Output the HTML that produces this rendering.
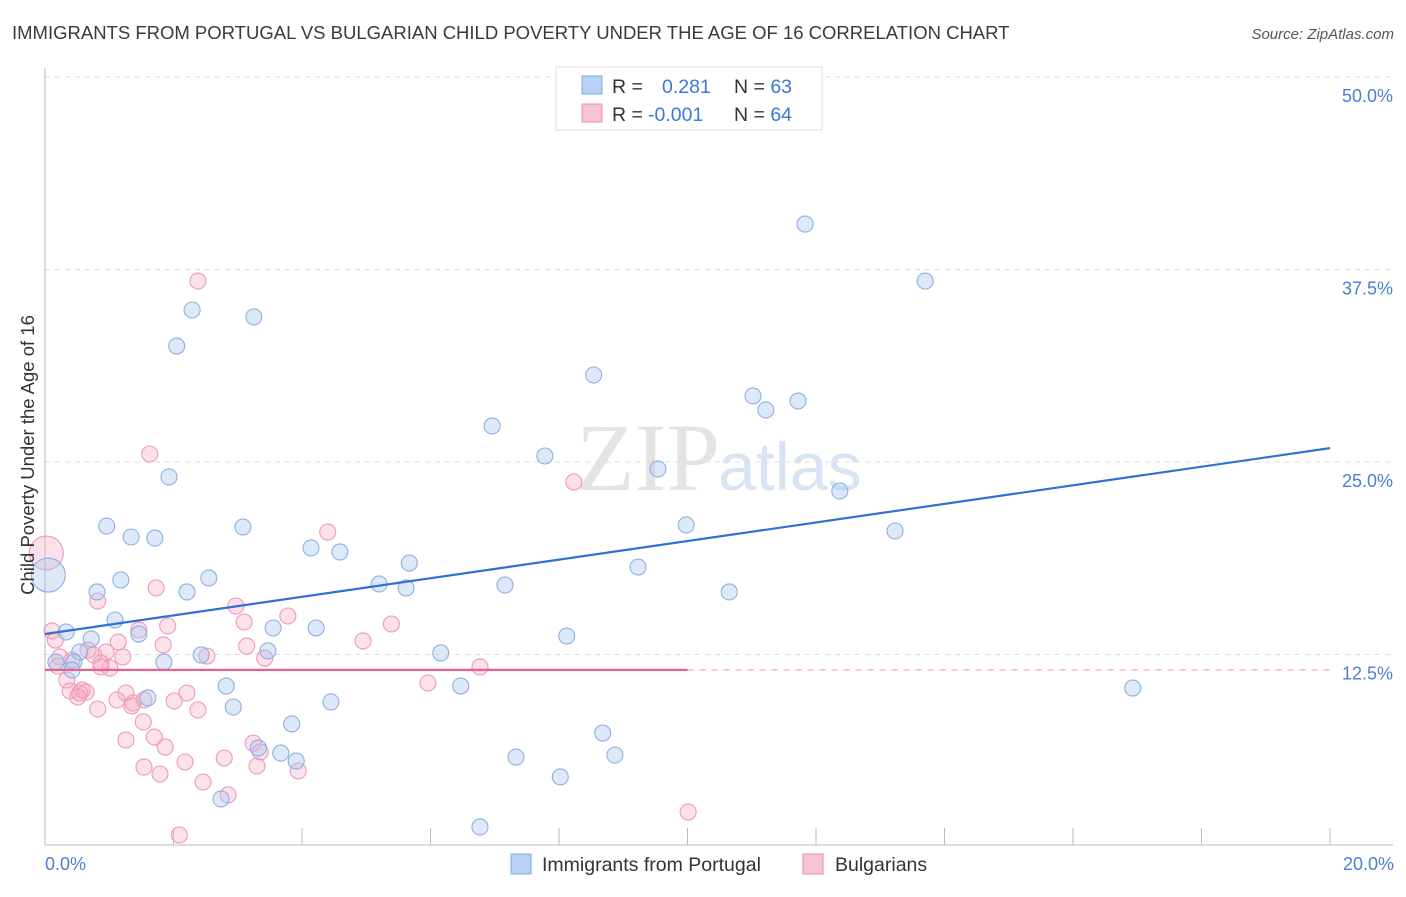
<!DOCTYPE html>
<html><head><meta charset="utf-8"><style>
body{margin:0;background:#fff;font-family:"Liberation Sans",sans-serif;}
</style></head><body>
<svg id="chart" width="1406" height="892" xmlns="http://www.w3.org/2000/svg" font-family="Liberation Sans, sans-serif">
<text x="12" y="39" font-size="18.5" fill="#3a3a3a">IMMIGRANTS FROM PORTUGAL VS BULGARIAN CHILD POVERTY UNDER THE AGE OF 16 CORRELATION CHART</text>
<text x="1394" y="39" font-size="15" fill="#555" text-anchor="end" font-style="italic">Source: ZipAtlas.com</text>
<text x="720" y="490" font-size="96" fill="#e4e4e4" text-anchor="end" font-family="Liberation Serif, serif">ZIP</text>
<text x="718" y="490" font-size="68" fill="#d6e4f3">atlas</text>
<g id="grid"></g>
<g id="axes"></g>
<g id="pts"></g>
<g id="lines"></g>
<text transform="translate(34,455) rotate(-90)" font-size="18.5" fill="#333" text-anchor="middle">Child Poverty Under the Age of 16</text>
<text x="45" y="870" font-size="18" fill="#4a7fd4">0.0%</text>
<text x="1394" y="870" font-size="18" fill="#4a7fd4" text-anchor="end">20.0%</text>
<g>
<rect x="556" y="67" width="266" height="63" fill="#fff" stroke="#ddd"/>
<rect x="582" y="76" width="20" height="18" fill="#b9d1f4" stroke="#7fa8e0"/>
<rect x="582" y="104" width="20" height="18" fill="#f8c3d4" stroke="#ea8fb0"/>
<text x="612" y="93" font-size="19.5" fill="#333">R = <tspan fill="#3a78d6" x="662">0.281</tspan><tspan fill="#333" x="734">N = </tspan><tspan fill="#3a78d6">63</tspan></text>
<text x="612" y="121" font-size="19.5" fill="#333">R = <tspan fill="#3a78d6" x="648">-0.001</tspan><tspan fill="#333" x="734">N = </tspan><tspan fill="#3a78d6">64</tspan></text>
</g>
<g>
<rect x="511" y="854" width="20" height="20" fill="#b9d1f4" stroke="#7fa8e0"/>
<text x="542" y="871" font-size="19.5" fill="#333">Immigrants from Portugal</text></g>
<g>
<rect x="803" y="854" width="20" height="20" fill="#f8c3d4" stroke="#ea8fb0"/>
<text x="835" y="871" font-size="19.5" fill="#333">Bulgarians</text></g>
</svg>
<script>
const yTicks=[12.5,25,37.5,50];
const yTickLabels=["12.5%","25.0%","37.5%","50.0%"];
const xTicks=[0,2,4,6,8,10,12,14,16,18,20];
const blueX=[11.83,13.70,2.29,3.25,2.05,8.54,11.02,11.72,11.22,6.96,7.78,1.93,9.54,12.37,0.96,3.08,9.98,13.23,1.34,1.71,4.14,4.59,5.67,9.23,1.18,2.55,5.20,5.62,7.16,0.81,2.21,10.65,1.09,0.33,3.55,4.22,1.46,0.72,8.12,0.54,3.47,2.43,6.16,0.17,0.45,1.85,0.42,2.82,6.47,16.93,1.60,4.45,2.93,3.84,3.32,3.67,3.91,8.68,8.87,7.33,8.02,2.74,6.77,0.05];
const blueY=[40.45,36.75,34.87,34.42,32.53,30.65,29.29,28.96,28.38,27.34,25.39,24.03,24.55,23.12,20.84,20.78,20.91,20.52,20.13,20.06,19.42,19.16,18.44,18.18,17.34,17.47,17.08,16.82,17.01,16.56,16.56,16.56,14.74,13.96,14.22,14.22,13.83,13.51,13.70,12.66,12.73,12.47,12.60,12.01,12.01,12.01,11.49,10.45,10.45,10.32,9.68,9.42,9.09,7.99,6.43,6.10,5.58,7.40,5.97,5.84,4.55,3.12,1.30,17.66];
const pinkX=[2.38,1.63,8.23,4.40,1.73,0.82,2.97,3.78,1.91,3.10,5.39,0.11,1.46,0.16,1.14,4.95,3.14,1.84,0.67,0.95,0.23,2.52,3.42,1.21,0.76,0.42,1.01,0.87,0.20,6.77,0.34,5.96,0.58,0.39,0.64,0.54,1.26,2.21,1.12,1.54,2.01,1.37,1.35,2.38,0.82,1.53,1.26,1.70,3.24,1.87,3.35,2.79,2.18,1.54,3.30,3.94,1.79,2.46,2.85,10.01,2.09,0.87,0.51,0.02];
const pinkY=[36.75,25.52,23.70,20.45,16.82,15.97,15.65,15.00,14.35,14.61,14.48,14.03,14.09,13.44,13.31,13.38,13.05,13.12,12.79,12.66,12.34,12.40,12.27,12.34,12.47,12.14,11.62,11.69,11.75,11.69,10.84,10.65,10.19,10.13,10.06,10.00,10.00,10.00,9.55,9.55,9.48,9.35,9.16,8.90,8.96,8.12,6.95,7.14,6.75,6.49,6.17,5.78,5.52,5.19,5.26,4.94,4.74,4.22,3.38,2.27,0.78,11.95,9.74,19.09];
const blueLine=[13.83,25.9];
const pinkLine=[11.5,11.5];
const NS="http://www.w3.org/2000/svg";
const sx=v=>45+v*64.25, sy=v=>847-v*15.4;
function mk(t,a,p){const e=document.createElementNS(NS,t);for(const k in a)e.setAttribute(k,a[k]);p.appendChild(e);return e;}
const grid=document.getElementById('grid'),axes=document.getElementById('axes'),pts=document.getElementById('pts'),lines=document.getElementById('lines');
yTicks.forEach((v,i)=>{
 const l=mk('line',{x1:45,x2:1393,y1:sy(v),y2:sy(v),stroke:'#ddd','stroke-dasharray':'5,5'},grid);
 
 
 const t=mk('text',{x:1393,y:sy(v)+25,'font-size':18,fill:'#4a7fd4','text-anchor':'end'},grid);
 t.textContent=yTickLabels[i];
 
 
});
const ax=mk('line',{x1:45,x2:1393,y1:845,y2:845,stroke:'#bbb'},axes);


const ay=mk('line',{x1:45,x2:45,y1:68,y2:845,stroke:'#bbb'},axes);


xTicks.forEach(v=>{
 const t=mk('line',{x1:sx(v),x2:sx(v),y1:828,y2:845,stroke:'#bbb'},axes);
 
 
});
function dots(X,Y,fill,stroke,name){
 X.forEach((x,i)=>{
  const big=i===X.length-1;
  const c=mk('circle',{cx:sx(x),cy:sy(Y[i]),r:big?17:8,fill:fill,stroke:stroke,'stroke-width':1.1},pts);
  
  
 });
}
dots(pinkX,pinkY,'rgba(245,170,195,0.35)','#ec9ab8','bulgarians-point');
dots(blueX,blueY,'rgba(170,200,240,0.4)','#8ab0e2','portugal-point');
const bl=mk('line',{x1:sx(0),y1:sy(blueLine[0]),x2:sx(20),y2:sy(blueLine[1]),stroke:'#2f6fd6','stroke-width':2.2},lines);


const pl=mk('line',{x1:sx(0),y1:sy(pinkLine[0]),x2:sx(10),y2:sy(pinkLine[0]+(pinkLine[1]-pinkLine[0])/2),stroke:'#e8608e','stroke-width':2.2},lines);


const pd=mk('line',{x1:sx(10),y1:sy(pinkLine[0]+(pinkLine[1]-pinkLine[0])/2),x2:sx(20),y2:sy(pinkLine[1]),stroke:'#f2b3c8','stroke-width':1.5,'stroke-dasharray':'6,6'},lines);


</script>
</body></html>
